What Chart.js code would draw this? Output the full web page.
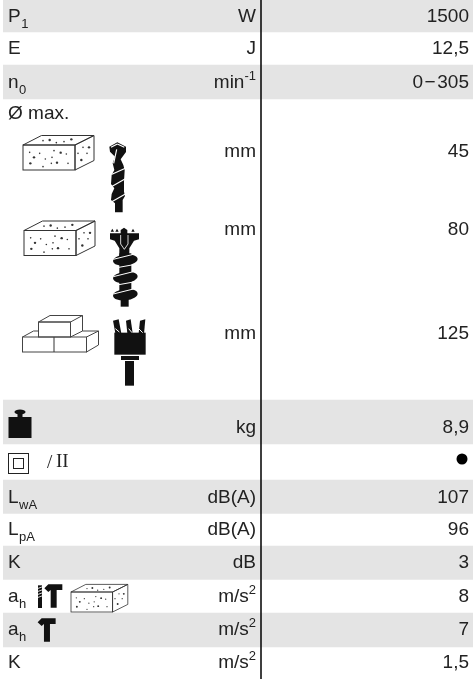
<!DOCTYPE html>
<html>
<head>
<meta charset="utf-8">
<style>
  html, body { margin: 0; padding: 0; background: #fff; }
  canvas { display: block; }
</style>
<script src="https://cdn.jsdelivr.net/npm/chart.js@4"></script>
</head>
<body>
<canvas id="specChart" width="473" height="679"></canvas>
<script>
'use strict';

// Table rows
const rowSymbols = ['P', 'E', 'n', 'Ø max.', 'L', 'L', 'K', 'a', 'a', 'K'];
const rowSubscripts = ['1', '', '0', '', 'wA', 'pA', '', 'h', 'h', ''];
const rowSymbolLines = [22, 54, 88, 119, 503, 535, 568, 602, 635, 668];

const rowUnits = ['W', 'J', 'min', 'mm', 'mm', 'mm', 'kg', 'dB(A)', 'dB(A)', 'dB', 'm/s', 'm/s', 'm/s'];
const rowSuperscripts = ['', '', '-1', '', '', '', '', '', '', '', '2', '2', '2'];
const rowValues = ['1500', '12,5', '0\u200a\u2212\u200a305', '45', '80', '125', '8,9', '107', '96', '3', '8', '7', '1,5'];
const rowValueLines = [22, 54, 88, 157, 235, 339, 433, 503, 535, 568, 602, 635, 668];

// Grey bands, top and bottom edge on the y scale
const bandStarts = [0, 65, 400, 480, 546, 613];
const bandEnds = [32, 99, 444, 513.5, 579.5, 647];

const dividerX = 261;
const bulletPoint = { x: 462, y: 459 };

const textColor = '#222';
const bandColor = '#e4e4e4';

// Dots on the concrete block, in 3x pixels
const blockDots = [
    [130, 62], [150, 60], [170, 68], [193, 65], [215, 58],
    [90, 97], [120, 100], [103, 112], [137, 117], [163, 92], [183, 98], [200, 102], [157, 112],
    [92, 130], [130, 140], [155, 130], [172, 128], [205, 130],
    [250, 82], [268, 82], [235, 100], [262, 100], [245, 120]
];

function poly(ctx, pts) {
    ctx.beginPath();
    pts.forEach((p, i) => (i ? ctx.lineTo(p[0], p[1]) : ctx.moveTo(p[0], p[1])));
    ctx.closePath();
}

function strokeLines(ctx, lines, color, width) {
    ctx.strokeStyle = color;
    ctx.lineWidth = width;
    lines.forEach(l => {
        ctx.beginPath();
        ctx.moveTo(l[0], l[1]);
        ctx.lineTo(l[2], l[3]);
        ctx.stroke();
    });
}

function drawBlock(ctx, x, y, s) {
    ctx.save();
    ctx.translate(x, y);
    ctx.scale(s, s);
    ctx.strokeStyle = '#333';
    ctx.lineWidth = 1;
    ctx.strokeRect(0, 0, 52, 25);
    poly(ctx, [[0, 0], [18.5, -9.5], [71, -9.5], [52, 0]]);
    ctx.stroke();
    poly(ctx, [[52, 0], [71, -9.5], [71, 15.5], [52, 25]]);
    ctx.stroke();
    ctx.fillStyle = '#333';
    blockDots.forEach((d, i) => {
        ctx.beginPath();
        ctx.arc((d[0] - 70) / 3, (d[1] - 75) / 3, i % 3 === 1 ? 1.2 : 0.8, 0, Math.PI * 2);
        ctx.fill();
    });
    ctx.restore();
}

function drawBricks(ctx) {
    ctx.strokeStyle = '#444';
    ctx.lineWidth = 1;
    ctx.strokeRect(22.5, 337, 64, 15);
    strokeLines(ctx, [[54, 337, 54, 352]], '#333', 1);
    ctx.strokeStyle = '#444';
    ctx.strokeRect(38.5, 322, 32, 15);
    poly(ctx, [[38.5, 322], [50, 315.5], [82.5, 315.5], [70.5, 322]]);
    ctx.stroke();
    strokeLines(ctx, [
        [82.5, 315.5, 82.5, 331], [70.5, 337, 82.5, 331], [82.5, 331, 98.5, 331],
        [98.5, 331, 98.5, 345], [98.5, 345, 86.5, 352], [98.5, 331, 86.5, 337],
        [22.5, 337, 33.5, 331], [33.5, 331, 38.5, 331]
    ], '#444', 1);
}

function drawMasonryBit(ctx) {
    ctx.save();
    ctx.translate(0, 120);
    ctx.scale(1 / 3, 1 / 3);
    ctx.fillStyle = '#111';
    poly(ctx, [[328, 80], [352, 67], [378, 80], [378, 96], [362, 118], [370, 135], [374, 150], [372, 185],
        [372, 215], [375, 228], [368, 240], [368, 277], [345, 277], [345, 250], [333, 240], [335, 222],
        [343, 205], [333, 192], [335, 165], [343, 150], [338, 130], [345, 110], [330, 95]]);
    ctx.fill();
    strokeLines(ctx, [
        [336, 163, 376, 145], [334, 200, 376, 176], [334, 246, 376, 222],
        [333, 82, 352, 72], [352, 72, 373, 82], [350, 88, 341, 130]
    ], '#fff', 3.5);
    ctx.restore();
}

function drawAugerBit(ctx) {
    ctx.save();
    ctx.translate(0, 120);
    ctx.scale(1 / 3, 1 / 3);
    ctx.fillStyle = '#111';
    poly(ctx, [[330, 340], [362, 340], [362, 330], [372, 323], [382, 330], [382, 340], [417, 340], [417, 358],
        [402, 362], [388, 385], [388, 410], [358, 410], [358, 385], [344, 362], [330, 358]]);
    ctx.fill();
    poly(ctx, [[332, 335], [337, 326], [342, 335]]);
    ctx.fill();
    poly(ctx, [[346, 335], [351, 326], [356, 335]]);
    ctx.fill();
    poly(ctx, [[394, 335], [399, 326], [404, 335]]);
    ctx.fill();
    ctx.fillRect(358, 400, 36, 135);
    ctx.fillRect(362, 530, 24, 30);
    [420, 472, 524].forEach(cy => {
        ctx.beginPath();
        ctx.ellipse(376, cy, 37, 17, -0.1, 0, Math.PI * 2);
        ctx.fill();
    });
    strokeLines(ctx, [
        [340, 418, 412, 400], [340, 445, 412, 432], [340, 470, 412, 452], [340, 497, 412, 484], [340, 522, 412, 504]
    ], '#fff', 3);
    strokeLines(ctx, [[362, 345, 362, 372], [384, 345, 384, 372], [362, 372, 373, 388], [384, 372, 373, 388]], '#fff', 2.5);
    ctx.restore();
}

function drawCoreBit(ctx) {
    ctx.save();
    ctx.translate(0, 270);
    ctx.scale(1 / 3, 1 / 3);
    ctx.fillStyle = '#111';
    ctx.fillRect(343, 188, 94, 66);
    ctx.fillRect(363, 258, 54, 12);
    ctx.fillRect(375, 273, 27, 74);
    poly(ctx, [[339, 152], [356, 148], [364, 190], [346, 190]]);
    ctx.fill();
    poly(ctx, [[378, 152], [392, 148], [398, 190], [382, 190]]);
    ctx.fill();
    poly(ctx, [[420, 152], [436, 148], [432, 192], [416, 190]]);
    ctx.fill();
    strokeLines(ctx, [[346, 176, 358, 186], [386, 176, 396, 188], [416, 176, 428, 188]], '#fff', 3);
    ctx.restore();
}

function drawWeight(ctx) {
    ctx.fillStyle = '#111';
    ctx.fillRect(8.5, 417, 23, 21);
    ctx.beginPath();
    ctx.ellipse(20, 412, 5.5, 2.6, 0, 0, Math.PI * 2);
    ctx.fill();
    ctx.fillRect(17.5, 413, 5, 5);
}

function drawClassTwo(ctx) {
    ctx.strokeStyle = '#222';
    ctx.lineWidth = 1;
    ctx.strokeRect(8.5, 453.5, 20, 20);
    ctx.strokeRect(13.5, 458.5, 10, 10);
    ctx.fillStyle = textColor;
    ctx.textAlign = 'left';
    ctx.font = '19px "Liberation Serif"';
    ctx.fillText('/', 47, 468);
    ctx.fillText('II', 56, 467);
}

function drawHammer(ctx, dx, dy) {
    ctx.save();
    ctx.translate(dx, dy);
    ctx.scale(1 / 3, 1 / 3);
    ctx.fillStyle = '#111';
    poly(ctx, [[133, 325], [145, 313], [187, 313], [187, 330], [170, 330], [170, 383], [152, 383], [152, 330], [145, 336]]);
    ctx.fill();
    ctx.restore();
}

function drawSmallDrill(ctx) {
    ctx.save();
    ctx.translate(0, 480);
    ctx.scale(1 / 3, 1 / 3);
    ctx.fillStyle = '#111';
    ctx.fillRect(114, 316, 12, 68);
    strokeLines(ctx, [[112, 326, 128, 320], [112, 335, 128, 329], [112, 344, 128, 338], [112, 353, 128, 347]], '#fff', 2.5);
    ctx.restore();
}

// Text and icons that the scales have no element for
const tablePlugin = {
    id: 'tableText',
    afterDatasetsDraw(chart) {
        const ctx = chart.ctx;
        const x = chart.scales.x2;
        const y = chart.scales.y;
        const font = '19px "Liberation Sans"';
        const smallFont = '13px "Liberation Sans"';
        ctx.save();
        ctx.fillStyle = textColor;
        ctx.textBaseline = 'alphabetic';

        rowSymbols.forEach((symbol, i) => {
            const px = x.getPixelForValue(8);
            const py = y.getPixelForValue(rowSymbolLines[i]);
            ctx.textAlign = 'left';
            ctx.font = font;
            ctx.fillText(symbol, px, py);
            if (rowSubscripts[i]) {
                const w = ctx.measureText(symbol).width;
                ctx.font = smallFont;
                ctx.fillText(rowSubscripts[i], px + w + 0.5, py + 6);
            }
        });

        rowUnits.forEach((unit, i) => {
            const right = x.getPixelForValue(256);
            const py = y.getPixelForValue(rowValueLines[i]);
            ctx.textAlign = 'right';
            let end = right;
            if (rowSuperscripts[i]) {
                ctx.font = smallFont;
                ctx.fillText(rowSuperscripts[i], right, py - 8);
                end -= ctx.measureText(rowSuperscripts[i]).width;
            }
            ctx.font = font;
            ctx.fillText(unit, end, py);
        });

        rowValues.forEach((value, i) => {
            ctx.textAlign = 'right';
            ctx.font = font;
            ctx.fillText(value, x.getPixelForValue(469), y.getPixelForValue(rowValueLines[i]));
        });

        drawBlock(ctx, 23, 145, 1);
        drawMasonryBit(ctx);
        drawBlock(ctx, 24, 230.5, 1);
        drawAugerBit(ctx);
        drawBricks(ctx);
        drawCoreBit(ctx);
        drawWeight(ctx);
        drawClassTwo(ctx);
        drawSmallDrill(ctx);
        drawHammer(ctx, 0, 480);
        drawBlock(ctx, 71, 592, 0.8);
        drawHammer(ctx, -6.7, 514);
        ctx.restore();
    }
};

const bandDatasets = bandStarts.map((start, i) => ({
    type: 'bar',
    order: 2,
    data: [[start, bandEnds[i]]],
    backgroundColor: bandColor,
    borderWidth: 0,
    barPercentage: 1,
    categoryPercentage: 1,
    grouped: false,
    xAxisID: 'x',
    yAxisID: 'y'
}));

new Chart(document.getElementById('specChart').getContext('2d'), {
    data: {
        labels: ['rows'],
        datasets: bandDatasets.concat([
            {
                type: 'line',
                order: 1,
                data: [{ x: dividerX, y: 0 }, { x: dividerX, y: 679 }],
                borderColor: '#000',
                borderWidth: 1.5,
                pointRadius: 0,
                xAxisID: 'x2',
                yAxisID: 'y'
            },
            {
                type: 'line',
                order: 1,
                data: [bulletPoint],
                showLine: false,
                pointRadius: 5.5,
                pointBackgroundColor: '#000',
                pointBorderWidth: 0,
                xAxisID: 'x2',
                yAxisID: 'y'
            }
        ])
    },
    options: {
        responsive: false,
        animation: false,
        layout: { padding: { left: 3 }, autoPadding: false },
        plugins: { legend: { display: false }, tooltip: { enabled: false } },
        scales: {
            x: { type: 'category', display: false, offset: true },
            x2: { type: 'linear', display: false, min: 3, max: 473 },
            y: { type: 'linear', display: false, reverse: true, min: 0, max: 679 }
        }
    },
    plugins: [tablePlugin]
});
</script>
</body>
</html>
